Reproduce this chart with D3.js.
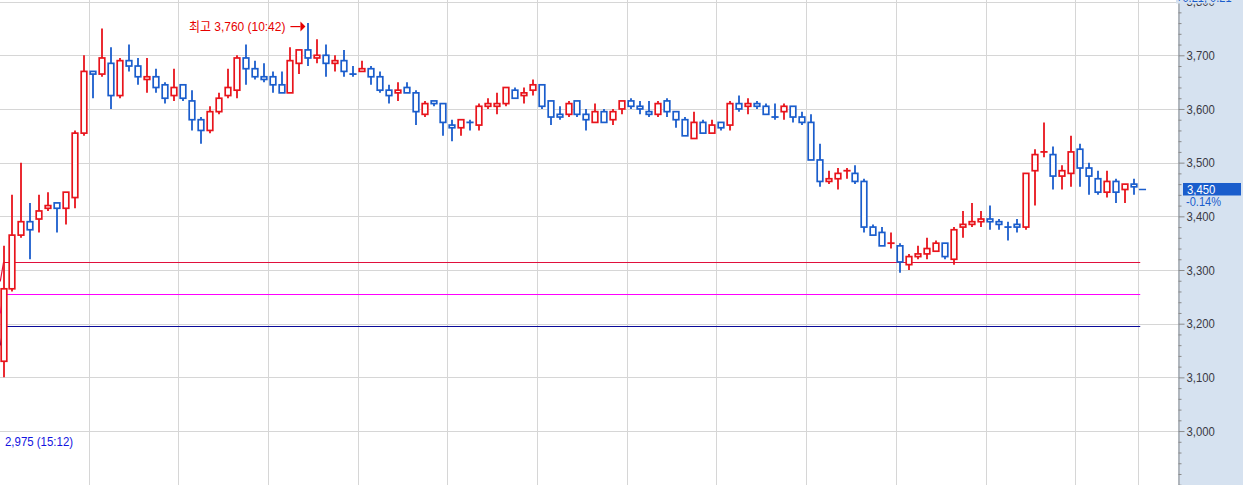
<!DOCTYPE html>
<html lang="ko">
<head>
<meta charset="utf-8">
<title>Intraday 3-min candles</title>
<script src="https://cdn.jsdelivr.net/npm/d3@7"></script>
<style>
  body { margin: 0; background: #fff; }
  svg { display: block; font-family: "Liberation Sans", "Noto Sans CJK KR", sans-serif; }
</style>
</head>
<body>
<svg class="chart" width="1245" height="485"></svg>
<script>
  // 3-minute candles, 09:00 .. 15:18
  var opens = [3130,3265,3365,3390,3395,3415,3425,3415,3435,3555,
               3670,3665,3685,3625,3690,3680,3655,3660,3645,3625,
               3645,3615,3580,3560,3595,3625,3635,3695,3675,3660,
               3660,3645,3630,3685,3710,3695,3700,3685,3690,3665,
               3670,3675,3660,3635,3630,3640,3630,3590,3615,3610,
               3570,3565,3575,3570,3605,3605,3610,3635,3625,3635,
               3645,3615,3590,3590,3615,3590,3575,3595,3580,3600,
               3615,3605,3595,3590,3615,3595,3580,3545,3575,3555,
               3575,3570,3610,3605,3610,3605,3585,3595,3605,3585,
               3575,3505,3465,3470,3485,3480,3465,3380,3370,3350,
               3345,3310,3325,3330,3335,3350,3320,3380,3385,3390,
               3395,3390,3380,3385,3380,3485,3520,3515,3475,3480,
               3525,3490,3470,3445,3465,3450,3460];
  var highs = [3345,3440,3500,3425,3440,3445,3425,3445,3560,3700,
               3670,3750,3715,3695,3720,3695,3695,3675,3650,3675,
               3645,3635,3585,3605,3630,3675,3700,3720,3690,3685,
               3670,3670,3715,3710,3760,3730,3720,3700,3710,3680,
               3690,3680,3670,3645,3650,3650,3635,3615,3615,3610,
               3580,3580,3580,3610,3620,3630,3640,3640,3640,3655,
               3645,3615,3605,3615,3615,3600,3610,3600,3600,3615,
               3620,3615,3615,3615,3620,3595,3585,3595,3580,3580,
               3575,3615,3625,3620,3615,3610,3610,3610,3605,3595,
               3590,3535,3485,3490,3490,3495,3470,3385,3380,3370,
               3350,3330,3345,3360,3355,3350,3380,3410,3425,3410,
               3420,3395,3390,3395,3480,3525,3575,3530,3495,3550,
               3535,3500,3485,3485,3470,3460,3470];
  var lows = [3100,3260,3360,3320,3370,3410,3370,3385,3415,3550,
              3620,3660,3600,3620,3670,3645,3630,3630,3610,3615,
              3615,3560,3535,3555,3590,3620,3620,3645,3655,3650,
              3630,3630,3630,3665,3680,3685,3660,3670,3660,3660,
              3670,3645,3630,3610,3615,3630,3570,3585,3605,3550,
              3540,3550,3560,3560,3600,3590,3605,3620,3610,3625,
              3600,3570,3580,3585,3585,3560,3575,3575,3570,3590,
              3600,3590,3585,3585,3585,3565,3550,3545,3555,3555,
              3560,3560,3595,3590,3600,3590,3580,3580,3575,3570,
              3505,3455,3460,3450,3470,3460,3370,3365,3345,3340,
              3295,3300,3320,3320,3335,3320,3310,3360,3380,3380,
              3375,3375,3355,3370,3375,3420,3510,3450,3450,3455,
              3455,3440,3440,3435,3425,3425,3440];
  var closes = [3265,3365,3390,3375,3410,3420,3415,3445,3555,3670,
                3665,3695,3625,3690,3680,3660,3660,3640,3620,3640,
                3620,3580,3560,3595,3620,3640,3695,3675,3660,3655,
                3645,3630,3690,3710,3695,3700,3685,3690,3670,3665,
                3675,3660,3635,3625,3635,3630,3595,3610,3610,3575,
                3565,3580,3575,3605,3610,3610,3640,3620,3630,3645,
                3605,3585,3585,3610,3590,3580,3595,3575,3595,3615,
                3605,3600,3590,3610,3595,3580,3550,3575,3555,3570,
                3565,3610,3600,3610,3605,3590,3585,3605,3585,3575,
                3505,3465,3470,3480,3485,3465,3380,3365,3345,3350,
                3315,3325,3330,3340,3350,3325,3375,3385,3390,3395,
                3390,3385,3380,3380,3480,3515,3520,3475,3485,3520,
                3490,3475,3445,3465,3445,3460,3455];

  var lastPrice = 3450, changeText = "-0.14%";
  var highText = "최고 3,760 (10:42)";
  var lowText = "2,975 (15:12)";

  // reference lines: [start value, level]
  var refLines = [
    { color: "#e0103c", from: 3280, level: 3315 },
    { color: "#ff00ff", from: 3220, level: 3255 },
    { color: "#0a0a9a", from: 3160, level: 3195 }
  ];

  var W = 1245, H = 485, plotRight = 1178;
  var red = "#e8141c", blue = "#1a5dcc", grid = "#d6d6d6", panel = "#d6e2f0";

  var svg = d3.select("svg.chart");

  // squeeze text to look like the narrow bitmap font of the original
  function narrow(sel, k) {
    sel.each(function() {
      var w = this.getComputedTextLength();
      d3.select(this).attr("textLength", w * k).attr("lengthAdjust", "spacingAndGlyphs");
    });
  }

  var x = d3.scaleLinear().domain([0, 126]).range([3.5, 1133.5]);
  var y = d3.scaleLinear().domain([2899.5, 3803]).range([H, 0]);

  var candles = opens.map(function(o, i) {
    var c = closes[i];
    var up = c > o || (c === o && i > 0 && c > closes[i - 1]);
    return { i: i, o: o, h: highs[i], l: lows[i], c: c, up: up };
  });

  // grid
  var hGrid = d3.range(2900, 3801, 100);
  svg.append("g").selectAll("line").data(hGrid).join("line")
    .attr("x1", 0).attr("x2", plotRight)
    .attr("y1", function(d) { return Math.round(y(d)) + 0.5; })
    .attr("y2", function(d) { return Math.round(y(d)) + 0.5; })
    .attr("stroke", grid);

  var vGrid = d3.range(1, 13).map(function(j) { return 10 * j - 0.5; }).concat([126.5]);
  svg.append("g").selectAll("line").data(vGrid).join("line")
    .attr("x1", function(d) { return Math.round(x(d)) + 0.5; })
    .attr("x2", function(d) { return Math.round(x(d)) + 0.5; })
    .attr("y1", 0).attr("y2", H)
    .attr("stroke", grid);

  // reference lines
  var refLine = d3.line().x(function(d) { return x(d[0]); }).y(function(d) { return Math.round(y(d[1])) + 0.5; });
  svg.append("g").selectAll("path").data(refLines).join("path")
    .attr("d", function(d) { return refLine([[-0.36, d.from], [0, d.level], [126.75, d.level]]); })
    .attr("fill", "none")
    .attr("stroke", function(d) { return d.color; })
    .attr("stroke-width", 1.2);

  // candles
  var g = svg.append("g");
  var cg = g.selectAll("g").data(candles).join("g");

  cg.append("line")
    .attr("x1", function(d) { return Math.round(x(d.i)); })
    .attr("x2", function(d) { return Math.round(x(d.i)); })
    .attr("y1", function(d) { return y(d.h); })
    .attr("y2", function(d) { return y(d.l); })
    .attr("stroke", function(d) { return d.up ? red : blue; })
    .attr("stroke-width", 1.8);

  cg.filter(function(d) { return d.o !== d.c; }).append("rect")
    .attr("x", function(d) { return Math.round(x(d.i)) - 2.8; })
    .attr("width", 5.6)
    .attr("y", function(d) { return y(Math.max(d.o, d.c)); })
    .attr("height", function(d) { return Math.abs(y(d.o) - y(d.c)); })
    .attr("fill", "#fff")
    .attr("stroke", function(d) { return d.up ? red : blue; })
    .attr("stroke-width", 1.7);

  cg.filter(function(d) { return d.o === d.c; }).append("line")
    .attr("x1", function(d) { return Math.round(x(d.i)) - 3.6; })
    .attr("x2", function(d) { return Math.round(x(d.i)) + 3.6; })
    .attr("y1", function(d) { return y(d.c); })
    .attr("y2", function(d) { return y(d.c); })
    .attr("stroke", function(d) { return d.up ? red : blue; })
    .attr("stroke-width", 1.8);

  // last price marker
  svg.append("line")
    .attr("x1", x(126.6)).attr("x2", x(127.4))
    .attr("y1", y(lastPrice)).attr("y2", y(lastPrice))
    .attr("stroke", blue).attr("stroke-width", 1.5);

  // high annotation
  var hiIdx = d3.maxIndex(highs);
  var hx = x(hiIdx), hy = y(highs[hiIdx]) + 3.5;
  svg.append("text")
    .attr("x", hx - 23).attr("y", hy)
    .attr("dy", "0.35em")
    .attr("text-anchor", "end")
    .attr("fill", "#e60000")
    .attr("font-size", 13)
    .text(highText)
    .call(narrow, 0.92);
  svg.append("line")
    .attr("x1", hx - 18).attr("x2", hx - 8)
    .attr("y1", hy).attr("y2", hy)
    .attr("stroke", "#e60000").attr("stroke-width", 1.2);
  svg.append("path")
    .attr("d", d3.line()([[hx - 8, hy - 5], [hx - 3, hy], [hx - 8, hy + 5]]) + "Z")
    .attr("fill", "#e60000");

  // low annotation
  svg.append("text")
    .attr("x", 5).attr("y", 441)
    .attr("dy", "0.35em")
    .attr("fill", "#1414e0")
    .attr("font-size", 13)
    .text(lowText)
    .call(narrow, 0.88);

  // right axis panel
  svg.append("rect")
    .attr("x", plotRight).attr("y", 0)
    .attr("width", W - 2 - plotRight).attr("height", H)
    .attr("fill", panel);

  var majors = d3.range(3000, 3801, 100);
  var minors = d3.range(2900, 3801, 20).filter(function(v) { return v % 100 !== 0; });

  var axisG = svg.append("g").attr("transform", "translate(" + (plotRight + 0.5) + ",0)");
  axisG.call(d3.axisRight(y).tickValues(majors).tickSize(6).tickPadding(2).tickFormat(d3.format(",")));
  axisG.append("g").call(d3.axisRight(y).tickValues(minors.concat([2900])).tickSize(3).tickFormat(""))
    .select(".domain").remove();
  axisG.selectAll(".domain").attr("stroke", "#8a8a8a");
  axisG.selectAll(".tick line").attr("stroke", "#8a8a8a");
  axisG.selectAll(".tick text")
    .attr("fill", "#3a3a44")
    .attr("font-size", 13)
    .attr("font-family", "'Liberation Sans', sans-serif")
    .call(narrow, 0.87);

  // current price box
  var py = y(lastPrice);
  svg.append("rect")
    .attr("x", plotRight + 5).attr("y", py - 6.5)
    .attr("width", 58).attr("height", 12.5)
    .attr("fill", blue);
  svg.append("text")
    .attr("x", plotRight + 9).attr("y", py)
    .attr("dy", "0.36em")
    .attr("fill", "#fff")
    .attr("font-size", 13)
    .text(d3.format(",")(lastPrice))
    .call(narrow, 0.87);
  svg.append("text")
    .attr("x", plotRight + 8).attr("y", py + 12.5)
    .attr("dy", "0.34em")
    .attr("fill", blue)
    .attr("font-size", 12)
    .text(changeText)
    .call(narrow, 0.92);

  // header strip at the very top of the axis panel, mostly cut off
  svg.append("rect")
    .attr("x", plotRight - 2).attr("y", 0)
    .attr("width", W - plotRight).attr("height", 3.5)
    .attr("fill", panel);
  svg.append("text")
    .attr("x", plotRight - 2).attr("y", 1.5)
    .attr("fill", blue)
    .attr("font-size", 13)
    .text("+0.21, 0.21")
    .call(narrow, 0.85);
</script>
</body>
</html>
